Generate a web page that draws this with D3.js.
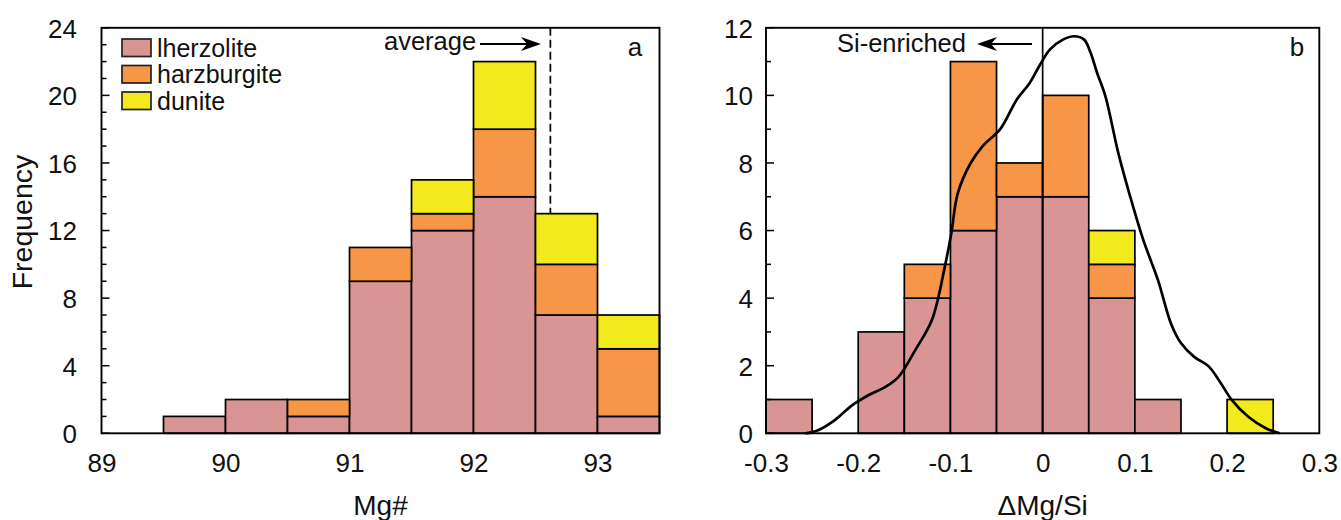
<!DOCTYPE html>
<html>
<head>
<meta charset="utf-8">
<script src="https://cdn.jsdelivr.net/npm/d3@7"></script>
<style>
  html, body { margin: 0; padding: 0; background: #fff; }
  svg { display: block; font-family: "Liberation Sans", Arial, Helvetica, sans-serif; }
</style>
</head>
<body>
<svg id="chart" width="1341" height="520"></svg>
<script>
// ---------------- DATA ----------------
const rockTypes = ["lherzolite", "harzburgite", "dunite"];
const rockColors = ["#D99594", "#F79646", "#F2EA1C"];

// Panel a: Mg# histogram (bin starts, bin width 0.5)
const mgBinStarts = [89.5, 90, 90.5, 91, 91.5, 92, 92.5, 93];
const mgLherzolite = [1, 2, 1, 9, 12, 14, 7, 1];
const mgHarzburgite = [0, 0, 1, 2, 1, 4, 3, 4];
const mgDunite = [0, 0, 0, 0, 2, 4, 3, 2];
const mgBinWidth = 0.5;
const mgAverage = 92.62;
const mgXTicks = [89, 90, 91, 92, 93];
const mgYTicks = [0, 4, 8, 12, 16, 20, 24];

// Panel b: ΔMg/Si histogram (bin starts, bin width 0.05)
const dBinStarts = [-0.3, -0.25, -0.2, -0.15, -0.1, -0.05, 0, 0.05, 0.1, 0.15, 0.2];
const dLherzolite = [1, 0, 3, 4, 6, 7, 7, 4, 1, 0, 0];
const dHarzburgite = [0, 0, 0, 1, 5, 1, 3, 1, 0, 0, 0];
const dDunite = [0, 0, 0, 0, 0, 0, 0, 1, 0, 0, 1];
const dBinWidth = 0.05;
const dXTicks = [-0.3, -0.2, -0.1, 0, 0.1, 0.2, 0.3];
const dYTicks = [0, 2, 4, 6, 8, 10, 12];

// Density curve
const kdeX = [-0.257, -0.243, -0.225, -0.206, -0.188, -0.170, -0.156, -0.138, -0.120, -0.106, -0.099, -0.092, -0.078, -0.065, -0.046, -0.028, -0.014, -0.003, 0.008, 0.022, 0.034, 0.045, 0.052, 0.059, 0.068, 0.082, 0.095, 0.109, 0.125, 0.139, 0.150, 0.164, 0.180, 0.191, 0.205, 0.223, 0.242, 0.257];
const kdeY = [0, 0.1, 0.4, 0.84, 1.14, 1.38, 1.68, 2.47, 3.36, 4.94, 5.93, 7.11, 8.0, 8.5, 9.0, 9.88, 10.37, 10.9, 11.36, 11.65, 11.75, 11.65, 11.26, 10.67, 9.98, 8.3, 7.0, 5.73, 4.54, 3.26, 2.67, 2.27, 1.98, 1.58, 0.99, 0.49, 0.15, 0];

// ---------------- DRAW ----------------
const svg = d3.select("#chart");
const FS = 26;
const FAM = "Liberation Sans, Arial, sans-serif";

function panel(opts) {
  const g = svg.append("g");
  const x = d3.scaleLinear().domain(opts.xDomain).range(opts.xRange);
  const y = d3.scaleLinear().domain(opts.yDomain).range([433.3, 27.8]);

  const rows = opts.binStarts.map((b, i) => ({
    b, lherzolite: opts.series[0][i], harzburgite: opts.series[1][i], dunite: opts.series[2][i]
  }));
  const stack = d3.stack().keys(rockTypes)(rows);
  stack.forEach((layer, k) => {
    g.selectAll(null).data(layer.filter(d => d[1] > d[0])).enter().append("rect")
      .attr("x", d => x(d.data.b))
      .attr("width", d => x(d.data.b + opts.binWidth) - x(d.data.b))
      .attr("y", d => y(d[1]))
      .attr("height", d => y(d[0]) - y(d[1]))
      .attr("fill", rockColors[k])
      .attr("stroke", "#000")
      .attr("stroke-width", 1.7);
  });

  if (opts.extra) opts.extra(g, x, y);

  g.append("rect")
    .attr("x", opts.xRange[0]).attr("y", y(opts.yDomain[1]))
    .attr("width", opts.xRange[1] - opts.xRange[0])
    .attr("height", y(opts.yDomain[0]) - y(opts.yDomain[1]))
    .attr("fill", "none").attr("stroke", "#000").attr("stroke-width", 1.9);

  const yMinor = d3.range(opts.yDomain[0], opts.yDomain[1] + 1, 1);
  g.selectAll(null).data(yMinor).enter().append("line")
    .attr("x1", opts.xRange[0]).attr("x2", d => opts.xRange[0] + (opts.yTicks.includes(d) ? 8 : 5))
    .attr("y1", d => y(d)).attr("y2", d => y(d))
    .attr("stroke", "#000").attr("stroke-width", 1.5);

  const yAxis = d3.axisLeft(y).tickValues(opts.yTicks).tickSize(0).tickPadding(0).tickFormat(d => String(d));
  const ya = g.append("g").attr("transform", `translate(${opts.yLabelX},0)`).call(yAxis);
  ya.select(".domain").remove();
  ya.selectAll("text").attr("font-size", FS).attr("font-family", FAM).attr("fill", "#111").attr("dy", "0.36em");

  const xAxis = d3.axisBottom(x).tickValues(opts.xTicks).tickSize(0).tickPadding(0).tickFormat(opts.xFormat);
  const xa = g.append("g").attr("transform", `translate(0,${472})`).call(xAxis);
  xa.select(".domain").remove();
  xa.selectAll("text").attr("font-size", FS).attr("font-family", FAM).attr("fill", "#111").attr("dy", 0).attr("y", 0);

  g.append("text").attr("x", (opts.xRange[0] + opts.xRange[1]) / 2).attr("y", 515)
    .attr("text-anchor", "middle").attr("font-size", 28).attr("fill", "#111").text(opts.xTitle);

  g.append("text").attr("x", opts.letterX).attr("y", 56).attr("text-anchor", "middle")
    .attr("font-size", FS).attr("fill", "#111").text(opts.letter);
  return { g, x, y };
}

function arrowHead(g, tipX, tipY, dir) {
  const L = 20, H = 7;
  g.append("path")
    .attr("d", `M${tipX},${tipY} L${tipX - dir * L},${tipY - H} L${tipX - dir * (L - 6)},${tipY} L${tipX - dir * L},${tipY + H} Z`)
    .attr("fill", "#000");
}

const fmtHyphen = d => (d === 0 ? "0" : d.toFixed(1));

// Panel a
panel({
  xDomain: [89, 93.5], xRange: [101.5, 659.5], yDomain: [0, 24],
  binStarts: mgBinStarts, binWidth: mgBinWidth,
  series: [mgLherzolite, mgHarzburgite, mgDunite],
  xTicks: mgXTicks, yTicks: mgYTicks, xFormat: d => String(d),
  yLabelX: 77, xTitle: "Mg#", letter: "a", letterX: 635,
  extra: (g, x, y) => {
    const total = mgLherzolite.map((v, i) => v + mgHarzburgite[i] + mgDunite[i]);
    const idx = mgBinStarts.findIndex(b => mgAverage >= b && mgAverage < b + mgBinWidth);
    g.append("line").attr("x1", x(mgAverage)).attr("x2", x(mgAverage))
      .attr("y1", y(24)).attr("y2", y(total[idx]))
      .attr("stroke", "#000").attr("stroke-width", 1.7).attr("stroke-dasharray", "8,4");
    g.append("text").attr("x", 384).attr("y", 50).attr("font-size", 25.5).attr("fill", "#111").text("average");
    g.append("line").attr("x1", 480).attr("x2", 528).attr("y1", 44).attr("y2", 44).attr("stroke", "#000").attr("stroke-width", 1.8);
    arrowHead(g, 541, 44, 1);
    const lg = g.append("g");
    rockTypes.forEach((t, i) => {
      lg.append("rect").attr("x", 122).attr("y", 39 + i * 26.5).attr("width", 29).attr("height", 17.5)
        .attr("fill", rockColors[i]).attr("stroke", "#222").attr("stroke-width", 1.7);
      lg.append("text").attr("x", 157).attr("y", 56.5 + i * 26.5).attr("font-size", 25).attr("fill", "#111").text(t);
    });
  }
});

svg.append("text").attr("transform", "translate(32,222) rotate(-90)")
  .attr("text-anchor", "middle").attr("font-size", 28.5).attr("fill", "#111").text("Frequency");

// Panel b
panel({
  xDomain: [-0.3, 0.3], xRange: [766, 1319.3], yDomain: [0, 12],
  binStarts: dBinStarts, binWidth: dBinWidth,
  series: [dLherzolite, dHarzburgite, dDunite],
  xTicks: dXTicks, yTicks: dYTicks, xFormat: fmtHyphen,
  yLabelX: 753, xTitle: "ΔMg/Si", letter: "b", letterX: 1297,
  extra: (g, x, y) => {
    g.append("line").attr("x1", x(0)).attr("x2", x(0)).attr("y1", y(12)).attr("y2", y(0))
      .attr("stroke", "#000").attr("stroke-width", 1.7);
    const pts = kdeX.map((v, i) => [v, kdeY[i]]);
    g.append("path").datum(pts)
      .attr("d", d3.line().x(d => x(d[0])).y(d => y(d[1])).curve(d3.curveCatmullRom.alpha(0.5)))
      .attr("fill", "none").attr("stroke", "#000").attr("stroke-width", 2.7);
    g.append("text").attr("x", 837).attr("y", 52).attr("font-size", 25.5).attr("fill", "#111").text("Si-enriched");
    g.append("line").attr("x1", 990).attr("x2", 1032).attr("y1", 44).attr("y2", 44).attr("stroke", "#000").attr("stroke-width", 1.8);
    arrowHead(g, 977, 44, -1);
  }
});
</script>
</body>
</html>
